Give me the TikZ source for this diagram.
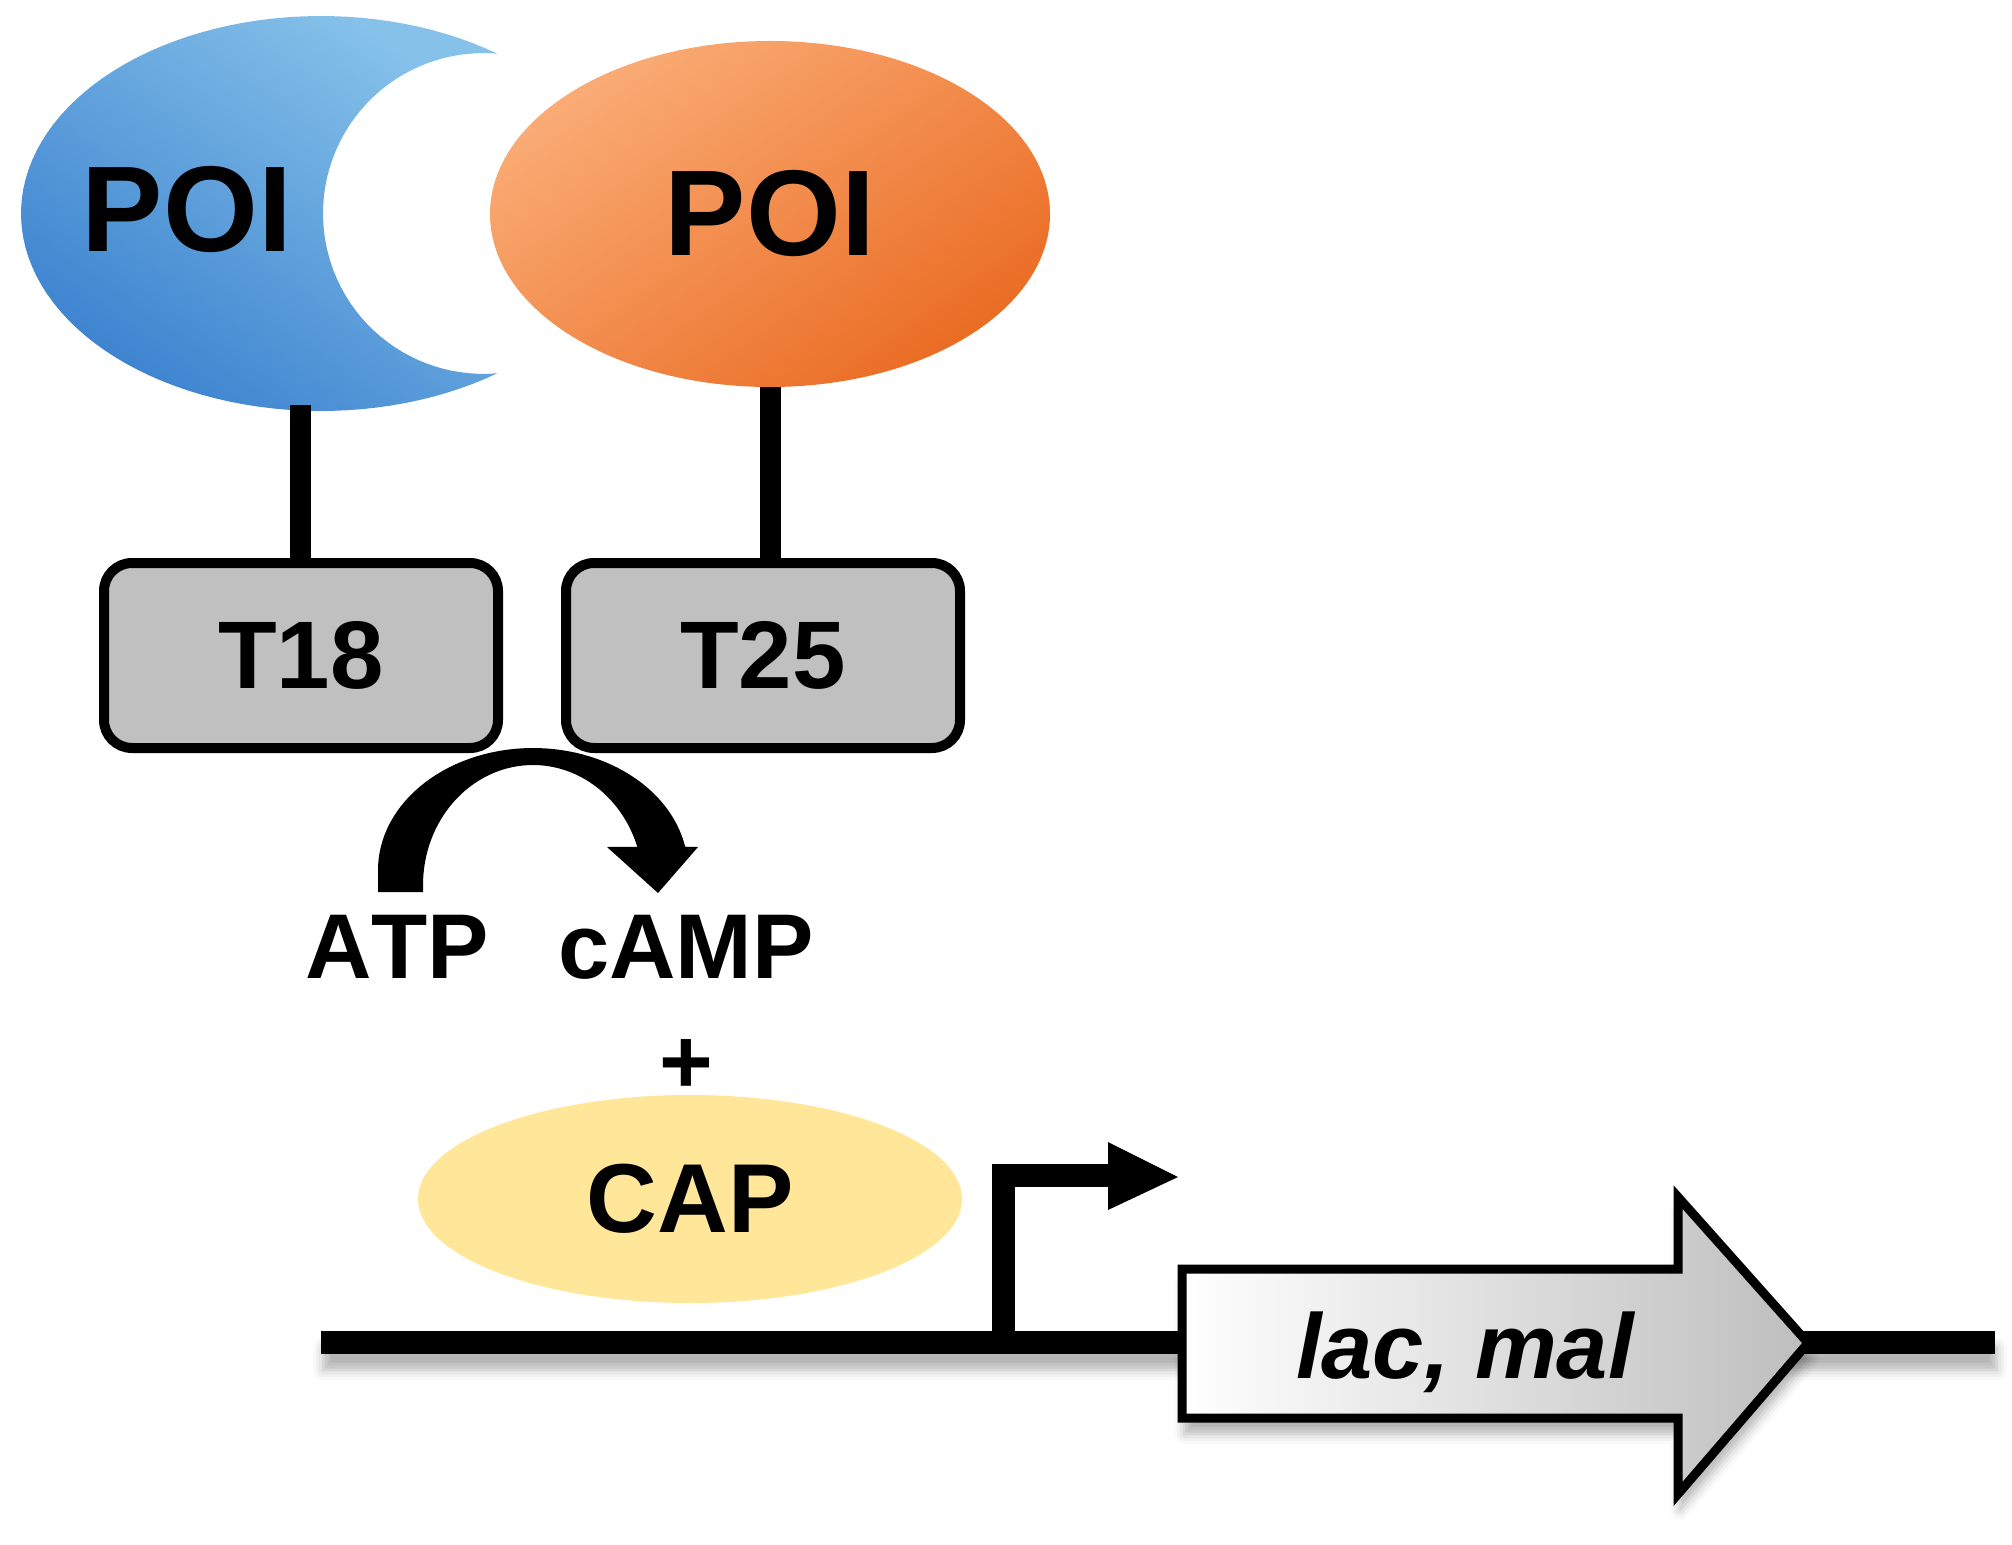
\documentclass[tikz,border=0pt]{standalone}
\usepackage{fontspec}
\setmainfont{Liberation Sans}[Kerning=Off]
\usetikzlibrary{shapes.geometric,shadows.blur}
\definecolor{bluelight}{RGB}{133,193,233}
\definecolor{bluedark}{RGB}{60,130,207}
\definecolor{orangelight}{RGB}{250,172,118}
\definecolor{orangedark}{RGB}{234,108,35}
\definecolor{boxgray}{RGB}{192,192,192}
\definecolor{capyellow}{RGB}{255,230,153}
\definecolor{genegray}{RGB}{190,190,190}
\begin{document}
\begin{tikzpicture}[x=0.5pt, y=-0.5pt,
  lbl/.style={font=\bfseries\fontsize{#1}{#1}\selectfont, inner sep=0pt, anchor=base},
  tbox/.style={draw, line width=5pt, rounded corners=14pt, fill=boxgray,
    minimum width=197pt, minimum height=92.5pt, inner sep=0pt,
    font=\bfseries\fontsize{48}{48}\selectfont},
  stem/.style={line width=10.5pt},
  softshadow/.style={blur shadow={shadow xshift=1pt, shadow yshift=-8pt,
    shadow blur radius=5pt, shadow opacity=30}},
  blob/.style={ellipse, inner sep=0pt}
]
\useasboundingbox (0,0) rectangle (2012,1545);

% blue crescent (T18 partner)
\path[top color=bluelight, bottom color=bluedark, shading angle=-35]
  plot[domain=54:306, samples=90] ({321+300*cos(\x)},{213.5-197.5*sin(\x)})
  -- plot[domain=85:275, samples=60] ({483.4+160.4*cos(\x)},{213.5+160.4*sin(\x)})
  -- cycle;
\node[lbl=61] (poiL) at (187,252) {POI};

% orange POI
\node[blob, minimum width=280pt, minimum height=173pt,
  top color=orangelight, bottom color=orangedark, shading angle=35,
  font=\bfseries\fontsize{61}{61}\selectfont] (poiR) at (770,214) {POI};

% ATP -> cAMP curved arrow
\fill (378,892)
  -- plot[domain=180:349, samples=60] ({533+155*cos(\x)},{870+122*sin(\x)})
  -- (698,847) -- (658,893) -- (607,847)
  -- plot[domain=18.5:180, samples=60] ({533+110*cos(\x)},{885-120*sin(\x)})
  -- (423,892) -- cycle;

% T18 / T25
\coordinate (bluebot) at (300,405);
\node[tbox] (t18) at (301,655.5) {T18};
\node[tbox] (t25) at (763,655.5) {T25};
\draw[stem] (bluebot) -- (bluebot |- t18.north);
\draw[stem] (poiR.south) -- (poiR.south |- t25.north);

% labels
\node[lbl=46] (atp) at (397,978) {ATP};
\node[lbl=46] (camp) at (686,978) {cAMP};
\node[lbl=46] (plus) at (686,1093) {+};

% CAP
\node[blob, fill=capyellow, minimum width=272pt, minimum height=104pt,
  font=\bfseries\fontsize{49}{49}\selectfont] (cap) at (690,1199) {CAP};

% DNA
\node[fill=black, minimum width=837pt, minimum height=11.5pt, inner sep=0pt,
  softshadow] (dna) at (1158,1342.5) {};

% promoter arrow
\coordinate (promfoot) at (1003,1342);
\coordinate (promhead) at (1110,1175);
\draw[line width=11.5pt, line join=miter] (promfoot) |- (promhead);
\fill (1108,1142) -- (1178,1177) -- (1108,1210) -- cycle;

% gene arrow
\path[draw, line width=4.5pt, line join=miter, left color=white, right color=genegray, softshadow]
  (1182,1269) -- (1678,1269) -- (1678,1197) -- (1808,1343) -- (1678,1494)
  -- (1678,1418) -- (1182,1418) -- cycle;
\node[font=\bfseries\itshape\fontsize{46}{46}\selectfont, inner sep=0pt, anchor=base]
  (gene) at (1465,1378) {lac, mal};
\end{tikzpicture}
\end{document}
